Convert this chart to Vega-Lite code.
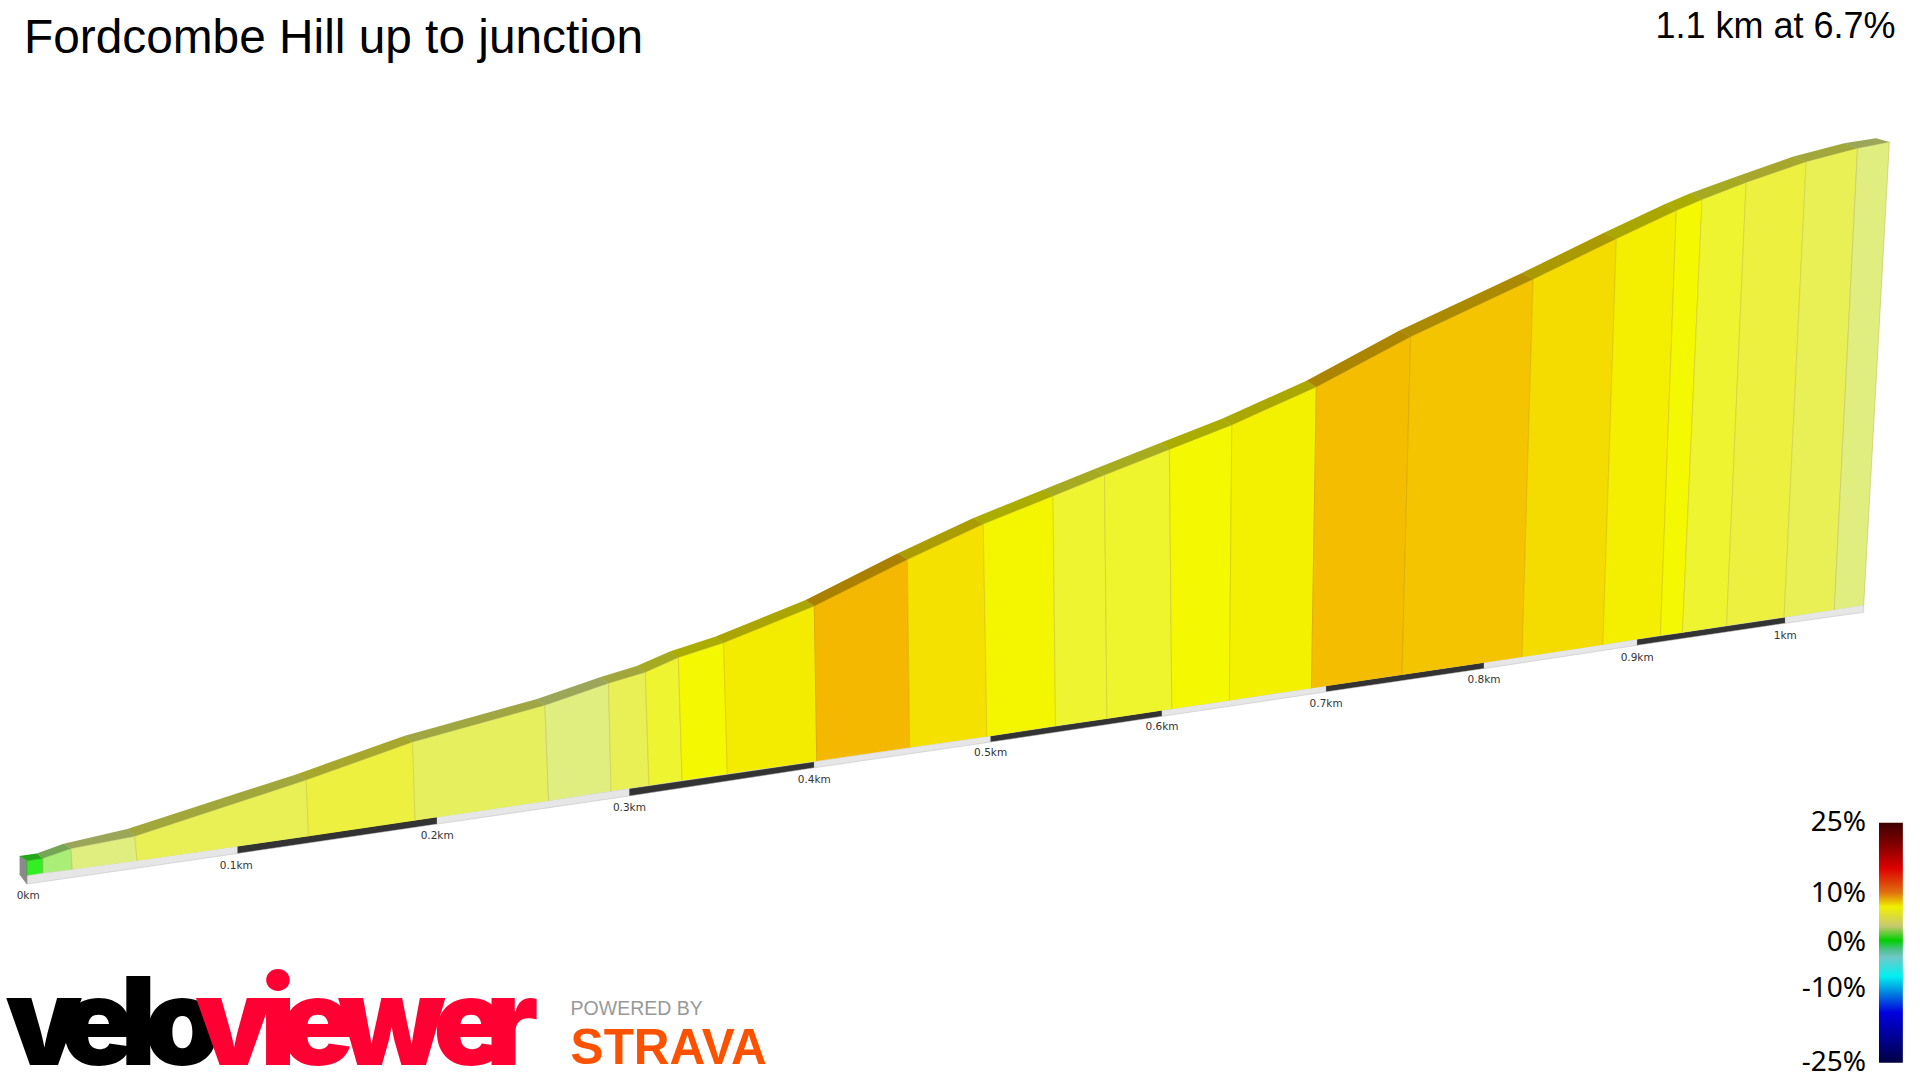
{
  "$schema": "https://vega.github.io/schema/vega-lite/v6.json",
  "width": 1920,
  "height": 1080,
  "padding": 0,
  "autosize": {"type": "none"},
  "background": "#ffffff",
  "config": {"view": {"stroke": null}},
  "title": {"text": "Fordcombe Hill up to junction", "anchor": "start", "frame": "group", "offset": -101, "dx": 24, "font": "Liberation Sans", "fontSize": 47.8, "fontWeight": "normal", "color": "#000000", "baseline": "alphabetic"},
  "datasets": {
    "faces": [
      {"seg":0,"i":0,"x":22,"y":715,"grade":0.5},{"seg":0,"i":1,"x":22,"y":703,"grade":0.5},{"seg":0,"i":2,"x":35,"y":701,"grade":0.5},{"seg":0,"i":3,"x":35,"y":713,"grade":0.5},
      {"seg":1,"i":0,"x":35,"y":713,"grade":2},{"seg":1,"i":1,"x":35,"y":701,"grade":2},{"seg":1,"i":2,"x":58,"y":693,"grade":2},{"seg":1,"i":3,"x":59,"y":710,"grade":2},
      {"seg":2,"i":0,"x":59,"y":710,"grade":4},{"seg":2,"i":1,"x":58,"y":693,"grade":4},{"seg":2,"i":2,"x":110,"y":683,"grade":4},{"seg":2,"i":3,"x":112,"y":703,"grade":4},
      {"seg":3,"i":0,"x":112,"y":703,"grade":5},{"seg":3,"i":1,"x":110,"y":683,"grade":5},{"seg":3,"i":2,"x":250,"y":637,"grade":5},{"seg":3,"i":3,"x":252,"y":683,"grade":5},
      {"seg":4,"i":0,"x":252,"y":683,"grade":5.5},{"seg":4,"i":1,"x":250,"y":637,"grade":5.5},{"seg":4,"i":2,"x":337,"y":606,"grade":5.5},{"seg":4,"i":3,"x":339,"y":670,"grade":5.5},
      {"seg":5,"i":0,"x":339,"y":670,"grade":4.8},{"seg":5,"i":1,"x":337,"y":606,"grade":4.8},{"seg":5,"i":2,"x":445,"y":576,"grade":4.8},{"seg":5,"i":3,"x":448,"y":654,"grade":4.8},
      {"seg":6,"i":0,"x":448,"y":654,"grade":4},{"seg":6,"i":1,"x":445,"y":576,"grade":4},{"seg":6,"i":2,"x":497,"y":558,"grade":4},{"seg":6,"i":3,"x":499,"y":646,"grade":4},
      {"seg":7,"i":0,"x":499,"y":646,"grade":5},{"seg":7,"i":1,"x":497,"y":558,"grade":5},{"seg":7,"i":2,"x":527,"y":549,"grade":5},{"seg":7,"i":3,"x":530,"y":641.5,"grade":5},
      {"seg":8,"i":0,"x":530,"y":641.5,"grade":5.8},{"seg":8,"i":1,"x":527,"y":549,"grade":5.8},{"seg":8,"i":2,"x":554,"y":537,"grade":5.8},{"seg":8,"i":3,"x":557,"y":637.5,"grade":5.8},
      {"seg":9,"i":0,"x":557,"y":637.5,"grade":6.5},{"seg":9,"i":1,"x":554,"y":537,"grade":6.5},{"seg":9,"i":2,"x":591,"y":525,"grade":6.5},{"seg":9,"i":3,"x":594,"y":632,"grade":6.5},
      {"seg":10,"i":0,"x":594,"y":632,"grade":7},{"seg":10,"i":1,"x":591,"y":525,"grade":7},{"seg":10,"i":2,"x":665,"y":495,"grade":7},{"seg":10,"i":3,"x":667,"y":621.5,"grade":7},
      {"seg":11,"i":0,"x":667,"y":621.5,"grade":9},{"seg":11,"i":1,"x":665,"y":495,"grade":9},{"seg":11,"i":2,"x":741,"y":457,"grade":9},{"seg":11,"i":3,"x":743,"y":610.5,"grade":9},
      {"seg":12,"i":0,"x":743,"y":610.5,"grade":7.5},{"seg":12,"i":1,"x":741,"y":457,"grade":7.5},{"seg":12,"i":2,"x":803,"y":428,"grade":7.5},{"seg":12,"i":3,"x":806,"y":601.5,"grade":7.5},
      {"seg":13,"i":0,"x":806,"y":601.5,"grade":6.6},{"seg":13,"i":1,"x":803,"y":428,"grade":6.6},{"seg":13,"i":2,"x":860,"y":405,"grade":6.6},{"seg":13,"i":3,"x":862,"y":593,"grade":6.6},
      {"seg":14,"i":0,"x":862,"y":593,"grade":5.8},{"seg":14,"i":1,"x":860,"y":405,"grade":5.8},{"seg":14,"i":2,"x":902,"y":388,"grade":5.8},{"seg":14,"i":3,"x":904,"y":587,"grade":5.8},
      {"seg":15,"i":0,"x":904,"y":587,"grade":5.9},{"seg":15,"i":1,"x":902,"y":388,"grade":5.9},{"seg":15,"i":2,"x":955,"y":367,"grade":5.9},{"seg":15,"i":3,"x":957,"y":579,"grade":5.9},
      {"seg":16,"i":0,"x":957,"y":579,"grade":6.5},{"seg":16,"i":1,"x":955,"y":367,"grade":6.5},{"seg":16,"i":2,"x":1006,"y":347,"grade":6.5},{"seg":16,"i":3,"x":1004,"y":572,"grade":6.5},
      {"seg":17,"i":0,"x":1004,"y":572,"grade":6.8},{"seg":17,"i":1,"x":1006,"y":347,"grade":6.8},{"seg":17,"i":2,"x":1075,"y":316,"grade":6.8},{"seg":17,"i":3,"x":1071,"y":562,"grade":6.8},
      {"seg":18,"i":0,"x":1071,"y":562,"grade":8.8},{"seg":18,"i":1,"x":1075,"y":316,"grade":8.8},{"seg":18,"i":2,"x":1152,"y":275,"grade":8.8},{"seg":18,"i":3,"x":1145,"y":551,"grade":8.8},
      {"seg":19,"i":0,"x":1145,"y":551,"grade":8.5},{"seg":19,"i":1,"x":1152,"y":275,"grade":8.5},{"seg":19,"i":2,"x":1252,"y":228,"grade":8.5},{"seg":19,"i":3,"x":1243,"y":536.5,"grade":8.5},
      {"seg":20,"i":0,"x":1243,"y":536.5,"grade":7.7},{"seg":20,"i":1,"x":1252,"y":228,"grade":7.7},{"seg":20,"i":2,"x":1320,"y":195,"grade":7.7},{"seg":20,"i":3,"x":1309,"y":526.5,"grade":7.7},
      {"seg":21,"i":0,"x":1309,"y":526.5,"grade":6.9},{"seg":21,"i":1,"x":1320,"y":195,"grade":6.9},{"seg":21,"i":2,"x":1369,"y":172,"grade":6.9},{"seg":21,"i":3,"x":1356,"y":519,"grade":6.9},
      {"seg":22,"i":0,"x":1356,"y":519,"grade":6.5},{"seg":22,"i":1,"x":1369,"y":172,"grade":6.5},{"seg":22,"i":2,"x":1390,"y":163,"grade":6.5},{"seg":22,"i":3,"x":1374,"y":516.5,"grade":6.5},
      {"seg":23,"i":0,"x":1374,"y":516.5,"grade":5.8},{"seg":23,"i":1,"x":1390,"y":163,"grade":5.8},{"seg":23,"i":2,"x":1426,"y":149,"grade":5.8},{"seg":23,"i":3,"x":1410,"y":511,"grade":5.8},
      {"seg":24,"i":0,"x":1410,"y":511,"grade":5.5},{"seg":24,"i":1,"x":1426,"y":149,"grade":5.5},{"seg":24,"i":2,"x":1475,"y":132,"grade":5.5},{"seg":24,"i":3,"x":1457,"y":504,"grade":5.5},
      {"seg":25,"i":0,"x":1457,"y":504,"grade":5},{"seg":25,"i":1,"x":1475,"y":132,"grade":5},{"seg":25,"i":2,"x":1517,"y":121,"grade":5},{"seg":25,"i":3,"x":1498,"y":498,"grade":5},
      {"seg":26,"i":0,"x":1498,"y":498,"grade":4},{"seg":26,"i":1,"x":1517,"y":121,"grade":4},{"seg":26,"i":2,"x":1543,"y":116,"grade":4},{"seg":26,"i":3,"x":1522,"y":494,"grade":4}
    ],
    "road": [
      {"seg":0,"i":0,"x":22,"y":703,"grade":0.5},{"seg":0,"i":1,"x":16,"y":699,"grade":0.5},{"seg":0,"i":2,"x":30,"y":697,"grade":0.5},{"seg":0,"i":3,"x":35,"y":701,"grade":0.5},
      {"seg":1,"i":0,"x":35,"y":701,"grade":2},{"seg":1,"i":1,"x":30,"y":697,"grade":2},{"seg":1,"i":2,"x":52,"y":689,"grade":2},{"seg":1,"i":3,"x":58,"y":693,"grade":2},
      {"seg":2,"i":0,"x":58,"y":693,"grade":4},{"seg":2,"i":1,"x":52,"y":689,"grade":4},{"seg":2,"i":2,"x":104,"y":677,"grade":4},{"seg":2,"i":3,"x":110,"y":683,"grade":4},
      {"seg":3,"i":0,"x":110,"y":683,"grade":5},{"seg":3,"i":1,"x":104,"y":677,"grade":5},{"seg":3,"i":2,"x":243,"y":632,"grade":5},{"seg":3,"i":3,"x":250,"y":637,"grade":5},
      {"seg":4,"i":0,"x":250,"y":637,"grade":5.5},{"seg":4,"i":1,"x":243,"y":632,"grade":5.5},{"seg":4,"i":2,"x":330,"y":601,"grade":5.5},{"seg":4,"i":3,"x":337,"y":606,"grade":5.5},
      {"seg":5,"i":0,"x":337,"y":606,"grade":4.8},{"seg":5,"i":1,"x":330,"y":601,"grade":4.8},{"seg":5,"i":2,"x":438,"y":571,"grade":4.8},{"seg":5,"i":3,"x":445,"y":576,"grade":4.8},
      {"seg":6,"i":0,"x":445,"y":576,"grade":4},{"seg":6,"i":1,"x":438,"y":571,"grade":4},{"seg":6,"i":2,"x":490,"y":553,"grade":4},{"seg":6,"i":3,"x":497,"y":558,"grade":4},
      {"seg":7,"i":0,"x":497,"y":558,"grade":5},{"seg":7,"i":1,"x":490,"y":553,"grade":5},{"seg":7,"i":2,"x":520,"y":544,"grade":5},{"seg":7,"i":3,"x":527,"y":549,"grade":5},
      {"seg":8,"i":0,"x":527,"y":549,"grade":5.8},{"seg":8,"i":1,"x":520,"y":544,"grade":5.8},{"seg":8,"i":2,"x":547,"y":532,"grade":5.8},{"seg":8,"i":3,"x":554,"y":537,"grade":5.8},
      {"seg":9,"i":0,"x":554,"y":537,"grade":6.5},{"seg":9,"i":1,"x":547,"y":532,"grade":6.5},{"seg":9,"i":2,"x":584,"y":520,"grade":6.5},{"seg":9,"i":3,"x":591,"y":525,"grade":6.5},
      {"seg":10,"i":0,"x":591,"y":525,"grade":7},{"seg":10,"i":1,"x":584,"y":520,"grade":7},{"seg":10,"i":2,"x":658,"y":490,"grade":7},{"seg":10,"i":3,"x":665,"y":495,"grade":7},
      {"seg":11,"i":0,"x":665,"y":495,"grade":9},{"seg":11,"i":1,"x":658,"y":490,"grade":9},{"seg":11,"i":2,"x":733,"y":452,"grade":9},{"seg":11,"i":3,"x":741,"y":457,"grade":9},
      {"seg":12,"i":0,"x":741,"y":457,"grade":7.5},{"seg":12,"i":1,"x":733,"y":452,"grade":7.5},{"seg":12,"i":2,"x":795,"y":423,"grade":7.5},{"seg":12,"i":3,"x":803,"y":428,"grade":7.5},
      {"seg":13,"i":0,"x":803,"y":428,"grade":6.6},{"seg":13,"i":1,"x":795,"y":423,"grade":6.6},{"seg":13,"i":2,"x":852,"y":400,"grade":6.6},{"seg":13,"i":3,"x":860,"y":405,"grade":6.6},
      {"seg":14,"i":0,"x":860,"y":405,"grade":5.8},{"seg":14,"i":1,"x":852,"y":400,"grade":5.8},{"seg":14,"i":2,"x":894,"y":383,"grade":5.8},{"seg":14,"i":3,"x":902,"y":388,"grade":5.8},
      {"seg":15,"i":0,"x":902,"y":388,"grade":5.9},{"seg":15,"i":1,"x":894,"y":383,"grade":5.9},{"seg":15,"i":2,"x":947,"y":362,"grade":5.9},{"seg":15,"i":3,"x":955,"y":367,"grade":5.9},
      {"seg":16,"i":0,"x":955,"y":367,"grade":6.5},{"seg":16,"i":1,"x":947,"y":362,"grade":6.5},{"seg":16,"i":2,"x":998,"y":342,"grade":6.5},{"seg":16,"i":3,"x":1006,"y":347,"grade":6.5},
      {"seg":17,"i":0,"x":1006,"y":347,"grade":6.8},{"seg":17,"i":1,"x":998,"y":342,"grade":6.8},{"seg":17,"i":2,"x":1067,"y":311,"grade":6.8},{"seg":17,"i":3,"x":1075,"y":316,"grade":6.8},
      {"seg":18,"i":0,"x":1075,"y":316,"grade":8.8},{"seg":18,"i":1,"x":1067,"y":311,"grade":8.8},{"seg":18,"i":2,"x":1143,"y":270,"grade":8.8},{"seg":18,"i":3,"x":1152,"y":275,"grade":8.8},
      {"seg":19,"i":0,"x":1152,"y":275,"grade":8.5},{"seg":19,"i":1,"x":1143,"y":270,"grade":8.5},{"seg":19,"i":2,"x":1243,"y":223,"grade":8.5},{"seg":19,"i":3,"x":1252,"y":228,"grade":8.5},
      {"seg":20,"i":0,"x":1252,"y":228,"grade":7.7},{"seg":20,"i":1,"x":1243,"y":223,"grade":7.7},{"seg":20,"i":2,"x":1310,"y":190,"grade":7.7},{"seg":20,"i":3,"x":1320,"y":195,"grade":7.7},
      {"seg":21,"i":0,"x":1320,"y":195,"grade":6.9},{"seg":21,"i":1,"x":1310,"y":190,"grade":6.9},{"seg":21,"i":2,"x":1359,"y":167,"grade":6.9},{"seg":21,"i":3,"x":1369,"y":172,"grade":6.9},
      {"seg":22,"i":0,"x":1369,"y":172,"grade":6.5},{"seg":22,"i":1,"x":1359,"y":167,"grade":6.5},{"seg":22,"i":2,"x":1380,"y":158,"grade":6.5},{"seg":22,"i":3,"x":1390,"y":163,"grade":6.5},
      {"seg":23,"i":0,"x":1390,"y":163,"grade":5.8},{"seg":23,"i":1,"x":1380,"y":158,"grade":5.8},{"seg":23,"i":2,"x":1416,"y":145,"grade":5.8},{"seg":23,"i":3,"x":1426,"y":149,"grade":5.8},
      {"seg":24,"i":0,"x":1426,"y":149,"grade":5.5},{"seg":24,"i":1,"x":1416,"y":145,"grade":5.5},{"seg":24,"i":2,"x":1464,"y":128,"grade":5.5},{"seg":24,"i":3,"x":1475,"y":132,"grade":5.5},
      {"seg":25,"i":0,"x":1475,"y":132,"grade":5},{"seg":25,"i":1,"x":1464,"y":128,"grade":5},{"seg":25,"i":2,"x":1506,"y":117,"grade":5},{"seg":25,"i":3,"x":1517,"y":121,"grade":5},
      {"seg":26,"i":0,"x":1517,"y":121,"grade":4},{"seg":26,"i":1,"x":1506,"y":117,"grade":4},{"seg":26,"i":2,"x":1532,"y":113,"grade":4},{"seg":26,"i":3,"x":1543,"y":116,"grade":4}
    ],
    "strip": [
      {"seg":0,"tone":"light","i":0,"x":22,"y":715},{"seg":0,"tone":"light","i":1,"x":194,"y":691},{"seg":0,"tone":"light","i":2,"x":194,"y":697},{"seg":0,"tone":"light","i":3,"x":22,"y":722},
      {"seg":1,"tone":"dark","i":0,"x":194,"y":691},{"seg":1,"tone":"dark","i":1,"x":357,"y":667},{"seg":1,"tone":"dark","i":2,"x":357,"y":673},{"seg":1,"tone":"dark","i":3,"x":194,"y":697},
      {"seg":2,"tone":"light","i":0,"x":357,"y":667},{"seg":2,"tone":"light","i":1,"x":514,"y":644},{"seg":2,"tone":"light","i":2,"x":514,"y":650},{"seg":2,"tone":"light","i":3,"x":357,"y":673},
      {"seg":3,"tone":"dark","i":0,"x":514,"y":644},{"seg":3,"tone":"dark","i":1,"x":665,"y":622},{"seg":3,"tone":"dark","i":2,"x":665,"y":627},{"seg":3,"tone":"dark","i":3,"x":514,"y":650},
      {"seg":4,"tone":"light","i":0,"x":665,"y":622},{"seg":4,"tone":"light","i":1,"x":809,"y":601},{"seg":4,"tone":"light","i":2,"x":809,"y":606},{"seg":4,"tone":"light","i":3,"x":665,"y":627},
      {"seg":5,"tone":"dark","i":0,"x":809,"y":601},{"seg":5,"tone":"dark","i":1,"x":949,"y":580},{"seg":5,"tone":"dark","i":2,"x":949,"y":585},{"seg":5,"tone":"dark","i":3,"x":809,"y":606},
      {"seg":6,"tone":"light","i":0,"x":949,"y":580},{"seg":6,"tone":"light","i":1,"x":1083,"y":560},{"seg":6,"tone":"light","i":2,"x":1083,"y":565},{"seg":6,"tone":"light","i":3,"x":949,"y":585},
      {"seg":7,"tone":"dark","i":0,"x":1083,"y":560},{"seg":7,"tone":"dark","i":1,"x":1212,"y":541},{"seg":7,"tone":"dark","i":2,"x":1212,"y":546},{"seg":7,"tone":"dark","i":3,"x":1083,"y":565},
      {"seg":8,"tone":"light","i":0,"x":1212,"y":541},{"seg":8,"tone":"light","i":1,"x":1337,"y":522},{"seg":8,"tone":"light","i":2,"x":1337,"y":527},{"seg":8,"tone":"light","i":3,"x":1212,"y":546},
      {"seg":9,"tone":"dark","i":0,"x":1337,"y":522},{"seg":9,"tone":"dark","i":1,"x":1458,"y":504},{"seg":9,"tone":"dark","i":2,"x":1458,"y":509},{"seg":9,"tone":"dark","i":3,"x":1337,"y":527},
      {"seg":10,"tone":"light","i":0,"x":1458,"y":504},{"seg":10,"tone":"light","i":1,"x":1522,"y":494},{"seg":10,"tone":"light","i":2,"x":1522,"y":500},{"seg":10,"tone":"light","i":3,"x":1458,"y":509}
    ],
    "endcap": [
      {"i":0,"x":16,"y":699},{"i":1,"x":22,"y":703},{"i":2,"x":22,"y":722},{"i":3,"x":16,"y":714}
    ],
    "scalebar": [
      {"x":1534.5,"x2":1554,"y":672,"y2":868}
    ],
    "labels": [
      {"kind":"km","text":"0km","x":23,"y":732},
      {"kind":"km","text":"0.1km","x":193,"y":707},
      {"kind":"km","text":"0.2km","x":357,"y":683},
      {"kind":"km","text":"0.3km","x":514,"y":660},
      {"kind":"km","text":"0.4km","x":665,"y":637},
      {"kind":"km","text":"0.5km","x":809,"y":615},
      {"kind":"km","text":"0.6km","x":949,"y":594},
      {"kind":"km","text":"0.7km","x":1083,"y":575},
      {"kind":"km","text":"0.8km","x":1212,"y":555},
      {"kind":"km","text":"0.9km","x":1337,"y":537},
      {"kind":"km","text":"1km","x":1458,"y":519},
      {"kind":"summary","text":"1.1 km at 6.7%","x":1548,"y":31},
      {"kind":"scale","text":"25%","x":1524,"y":672},
      {"kind":"scale","text":"10%","x":1524,"y":730},
      {"kind":"scale","text":"0%","x":1524,"y":770},
      {"kind":"scale","text":"-10%","x":1524,"y":808},
      {"kind":"scale","text":"-25%","x":1524,"y":868},
      {"kind":"powered","text":"POWERED BY","x":466,"y":829},
      {"kind":"strava","text":"STRAVA","x":466,"y":869},
      {"kind":"velo","text":"v","x":36,"y":870},
      {"kind":"velo","text":"e","x":80,"y":870},
      {"kind":"velo","text":"l","x":113,"y":870},
      {"kind":"velo","text":"o","x":149,"y":870},
      {"kind":"viewer","text":"v","x":191,"y":870},
      {"kind":"viewer","text":"i","x":227,"y":870},
      {"kind":"viewer","text":"e","x":259,"y":870},
      {"kind":"viewer","text":"w","x":320,"y":870},
      {"kind":"viewer","text":"e","x":384,"y":870},
      {"kind":"viewer","text":"r","x":418,"y":870}
    ]
  },
  "encoding": {
    "x": {"field": "x", "type": "quantitative", "axis": null, "scale": {"domain": [0, 1568], "nice": false, "zero": false}},
    "y": {"field": "y", "type": "quantitative", "axis": null, "scale": {"domain": [882, 0], "nice": false, "zero": false}}
  },
  "layer": [
    {
      "data": {"name": "strip"},
      "mark": {"type": "line", "strokeWidth": 0.5},
      "encoding": {
        "detail": {"field": "seg", "type": "nominal"},
        "order": {"field": "i", "type": "quantitative"},
        "fill": {"field": "tone", "type": "nominal", "legend": null, "scale": {"domain": ["light", "dark"], "range": ["#e6e6e6", "#333333"]}},
        "stroke": {"value": "#bbbbbb"}
      }
    },
    {
      "data": {"name": "endcap"},
      "mark": {"type": "line", "fill": "#8a8a8a", "stroke": "#777777", "strokeWidth": 0.5},
      "encoding": {"order": {"field": "i", "type": "quantitative"}}
    },
    {
      "data": {"name": "faces"},
      "mark": {"type": "line", "strokeWidth": 1, "strokeOpacity": 0.7},
      "encoding": {
        "detail": {"field": "seg", "type": "nominal"},
        "order": {"field": "i", "type": "quantitative"},
        "fill": {
          "field": "grade", "type": "quantitative", "legend": null,
          "scale": {
            "domain": [0.5, 2, 4, 5, 5.5, 5.8, 6.5, 7, 7.7, 8.5, 9],
            "range": ["#33ee22", "#aaee77", "#e0ee80", "#e8f055", "#eef040", "#eef430", "#f4f800", "#f4ec00", "#f5dc00", "#f5c400", "#f5b800"]
          }
        },
        "stroke": {
          "field": "grade", "type": "quantitative", "legend": null,
          "scale": {
            "domain": [0.5, 2, 4, 5, 7, 9],
            "range": ["#22bb11", "#88c855", "#c8c870", "#d0d050", "#d8c800", "#d8a000"]
          }
        }
      }
    },
    {
      "data": {"name": "road"},
      "mark": {"type": "line", "strokeOpacity": 0, "fillOpacity": 1},
      "encoding": {
        "detail": {"field": "seg", "type": "nominal"},
        "order": {"field": "i", "type": "quantitative"},
        "fill": {
          "field": "grade", "type": "quantitative", "legend": null,
          "scale": {
            "domain": [0.5, 2, 4, 5, 5.5, 5.8, 6.5, 7, 7.7, 8.5, 9],
            "range": ["#33ee22", "#aaee77", "#e0ee80", "#e8f055", "#eef040", "#eef430", "#f4f800", "#f4ec00", "#f5dc00", "#f5c400", "#f5b800"]
          }
        }
      }
    },
    {
      "data": {"name": "road"},
      "mark": {"type": "line", "strokeOpacity": 0, "fill": "#000000", "fillOpacity": 0.3},
      "encoding": {
        "detail": {"field": "seg", "type": "nominal"},
        "order": {"field": "i", "type": "quantitative"}
      }
    },
    {
      "data": {"name": "scalebar"},
      "mark": {
        "type": "rect",
        "fill": {
          "gradient": "linear", "x1": 0, "y1": 0, "x2": 0, "y2": 1,
          "stops": [
            {"offset": 0, "color": "#3d0000"},
            {"offset": 0.1, "color": "#8a0000"},
            {"offset": 0.19, "color": "#dd0000"},
            {"offset": 0.29, "color": "#e0700f"},
            {"offset": 0.35, "color": "#f0f000"},
            {"offset": 0.43, "color": "#c8c870"},
            {"offset": 0.49, "color": "#00d000"},
            {"offset": 0.53, "color": "#50c090"},
            {"offset": 0.56, "color": "#70c8c8"},
            {"offset": 0.64, "color": "#00f0f0"},
            {"offset": 0.71, "color": "#0080e0"},
            {"offset": 0.79, "color": "#0000e0"},
            {"offset": 0.9, "color": "#000090"},
            {"offset": 1, "color": "#000044"}
          ]
        }
      },
      "encoding": {
        "x2": {"field": "x2"},
        "y2": {"field": "y2"}
      }
    },
    {
      "data": {"name": "labels"},
      "transform": [{"filter": "datum.kind === 'km'"}],
      "mark": {"type": "text", "font": "DejaVu Sans", "fontSize": 10.5, "color": "#333333", "align": "center", "baseline": "middle"},
      "encoding": {"text": {"field": "text", "type": "nominal"}}
    },
    {
      "data": {"name": "labels"},
      "transform": [{"filter": "datum.kind === 'summary'"}],
      "mark": {"type": "text", "font": "Liberation Sans", "fontSize": 36, "color": "#000000", "align": "right", "baseline": "alphabetic"},
      "encoding": {"text": {"field": "text", "type": "nominal"}}
    },
    {
      "data": {"name": "labels"},
      "transform": [{"filter": "datum.kind === 'scale'"}],
      "mark": {"type": "text", "font": "Noto Sans", "fontSize": 28, "color": "#000000", "align": "right", "baseline": "middle"},
      "encoding": {"text": {"field": "text", "type": "nominal"}}
    },
    {
      "data": {"name": "labels"},
      "transform": [{"filter": "datum.kind === 'powered'"}],
      "mark": {"type": "text", "font": "Liberation Sans", "fontSize": 19.5, "color": "#999999", "align": "left", "baseline": "alphabetic"},
      "encoding": {"text": {"field": "text", "type": "nominal"}}
    },
    {
      "data": {"name": "labels"},
      "transform": [{"filter": "datum.kind === 'strava'"}],
      "mark": {"type": "text", "font": "Liberation Sans", "fontWeight": "bold", "fontSize": 49.5, "color": "#fc5200", "align": "left", "baseline": "alphabetic"},
      "encoding": {"text": {"field": "text", "type": "nominal"}}
    },
    {
      "data": {"name": "labels"},
      "transform": [{"filter": "datum.kind === 'velo'"}],
      "mark": {"type": "text", "font": "Inter", "fontWeight": 900, "fontSize": 122, "color": "#000000", "align": "center", "baseline": "alphabetic"},
      "encoding": {"text": {"field": "text", "type": "nominal"}}
    },
    {
      "data": {"name": "labels"},
      "transform": [{"filter": "datum.kind === 'viewer'"}],
      "mark": {"type": "text", "font": "Inter", "fontWeight": 900, "fontSize": 122, "color": "#ff0033", "align": "center", "baseline": "alphabetic"},
      "encoding": {"text": {"field": "text", "type": "nominal"}}
    }
  ]
}
